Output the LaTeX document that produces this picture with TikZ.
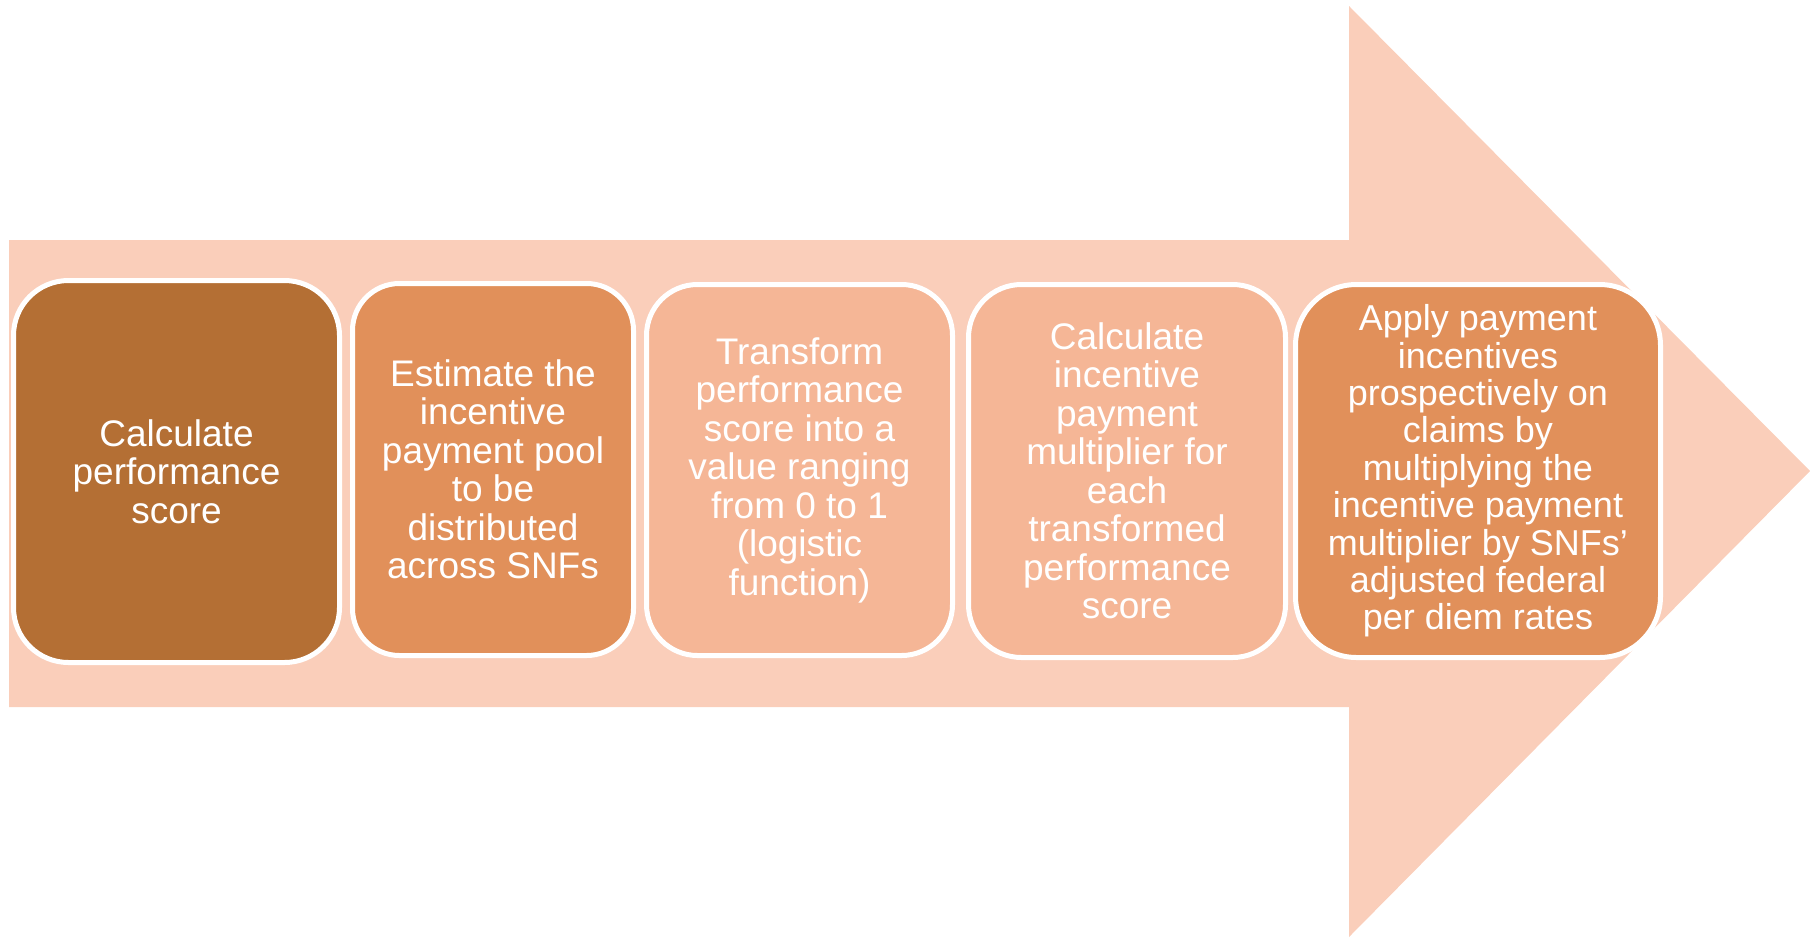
\documentclass[tikz,border=0pt]{standalone}
\usepackage{fontspec}
\setmainfont{Liberation Sans}
\definecolor{arrowc}{HTML}{FACEBA}
\definecolor{darkc}{HTML}{B46F34}
\definecolor{midc}{HTML}{E1905A}
\definecolor{lightc}{HTML}{F5B696}
\tikzset{
  stepbox/.style={draw=white, line width=5pt, align=center, text=white, inner sep=0pt, outer sep=0pt,
    font=\fontsize{37}{38.5}\selectfont},
}
\begin{document}
\begin{tikzpicture}[x=1pt,y=-1pt]
\useasboundingbox (0,0) rectangle (1810,938);
\fill[arrowc] (9,240) -- (1349,240) -- (1349,6) -- (1810,471) -- (1349,937) -- (1349,707) -- (9,707) -- cycle;
\node[stepbox, fill=darkc, minimum width=326pt, minimum height=382pt, rounded corners=55pt] (s1) at (176.5,471.5)
  {Calculate\\performance\\score};
\node[stepbox, fill=midc, minimum width=281pt, minimum height=372pt, rounded corners=47pt] (s2) at (493,469.5)
  {Estimate the\\incentive\\payment pool\\to be\\distributed\\across SNFs};
\node[stepbox, fill=lightc, minimum width=306pt, minimum height=371pt, rounded corners=51pt] (s3) at (799.5,470)
  {Transform\\performance\\score into a\\value ranging\\from 0 to 1\\(logistic\\function)};
\node[stepbox, fill=lightc, minimum width=317pt, minimum height=373pt, rounded corners=53pt] (s4) at (1127,471)
  {Calculate\\incentive\\payment\\multiplier for\\each\\transformed\\performance\\score};
\node[stepbox, fill=midc, minimum width=365pt, minimum height=373pt, rounded corners=61pt,
  font=\fontsize{36}{37.4}\selectfont] (s5) at (1478,471)
  {Apply payment\\incentives\\prospectively on\\claims by\\multiplying the\\incentive payment\\multiplier by SNFs’\\adjusted federal\\per diem rates};
\end{tikzpicture}
\end{document}
